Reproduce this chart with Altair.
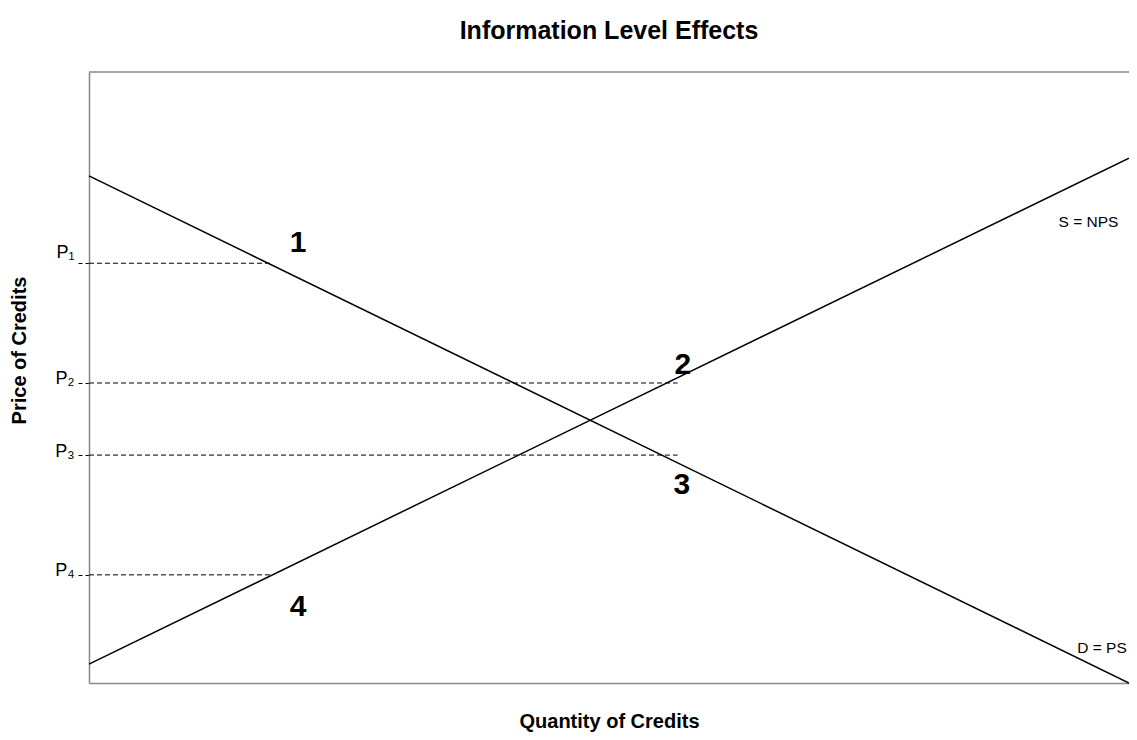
import altair as alt
import pandas as pd

# Curves (quantity 0..100, price 0..100)
curve_names = ["D = PS", "D = PS", "S = NPS", "S = NPS"]
curve_q = [0, 100, 0, 100]
curve_p = [83.0, 0.0, 3.1, 85.9]

# Price levels
price_labels = ["P₁", "P₂", "P₃", "P₄"]
price_values = [68.7, 49.1, 37.3, 17.7]
dash_end_q = [17.6, 56.6, 56.6, 17.6]

# Number annotations
num_text = ["1", "2", "3", "4"]
num_q = [20.1, 57.1, 57.0, 20.1]
num_p = [72.0, 52.0, 32.4, 12.4]

# Curve labels
curve_label_text = ["S = NPS", "D = PS"]
curve_label_q = [96.1, 97.4]
curve_label_p = [75.4, 5.8]

FONT = "Liberation Sans"
W, H = 1040, 611

curves = pd.DataFrame({"name": curve_names, "q": curve_q, "p": curve_p})
dashes = pd.DataFrame({"label": price_labels, "p": price_values, "q0": [0] * 4, "q1": dash_end_q})
nums = pd.DataFrame({"t": num_text, "q": num_q, "p": num_p})
clabels = pd.DataFrame({"t": curve_label_text, "q": curve_label_q, "p": curve_label_p})

xscale = alt.Scale(domain=[0, 100], nice=False, zero=False)
yscale = alt.Scale(domain=[0, 100], nice=False, zero=False)

label_map = "{" + ",".join(f"'{v}': '{l}'" for v, l in zip(price_values, price_labels)) + "}"

xaxis = alt.Axis(title="Quantity of Credits", labels=False, ticks=False, grid=False,
                 domainColor="#888888", domainWidth=1.5, titleFont=FONT, titleFontSize=20,
                 titleFontWeight="bold", titleColor="black", titlePadding=28)
yaxis = alt.Axis(title="Price of Credits", values=price_values, grid=False,
                 labelExpr=f"{label_map}[toString(datum.value)]",
                 labelOffset={"condition": {"test": "datum.value > 60", "value": -11}, "value": -4},
                 domainColor="#888888", domainWidth=1.5, tickSize=12, tickColor="black",
                 tickDash=[4, 3], labelFont=FONT, labelFontSize=18, labelColor="black",
                 labelPadding=3, titleFont=FONT, titleFontSize=20, titleFontWeight="bold",
                 titleColor="black", titleX=-60, titleY=278)

lines = alt.Chart(curves).mark_line(color="black", strokeWidth=1.5).encode(
    x=alt.X("q:Q", scale=xscale, axis=xaxis),
    y=alt.Y("p:Q", scale=yscale, axis=yaxis),
    detail="name:N",
)

dash_rules = alt.Chart(dashes).mark_rule(color="black", strokeWidth=1, strokeDash=[5, 3]).encode(
    x=alt.X("q0:Q", scale=xscale), x2="q1:Q", y=alt.Y("p:Q", scale=yscale)
)

num_marks = alt.Chart(nums).mark_text(font=FONT, fontSize=30, fontWeight="bold", color="black").encode(
    x=alt.X("q:Q", scale=xscale), y=alt.Y("p:Q", scale=yscale), text="t:N"
)

clabel_marks = alt.Chart(clabels).mark_text(font=FONT, fontSize=15.5, color="black").encode(
    x=alt.X("q:Q", scale=xscale), y=alt.Y("p:Q", scale=yscale), text="t:N"
)

top_border = alt.Chart(pd.DataFrame({"a": [0]})).mark_rule(color="#888888", strokeWidth=1.5).encode(
    x=alt.value(0), x2=alt.value(W), y=alt.value(0)
)

chart = alt.layer(top_border, dash_rules, lines, num_marks, clabel_marks).properties(
    width=W, height=H,
    title=alt.Title("Information Level Effects", font=FONT, fontSize=25, fontWeight="bold",
                    color="black", anchor="middle", offset=27),
    autosize=alt.AutoSizeParams(type="none"),
    padding={"left": 81, "top": 64, "right": 0, "bottom": 49},
).configure_view(stroke=None)

chart.save("out.html", embed_options={"renderer": "svg", "actions": False})
